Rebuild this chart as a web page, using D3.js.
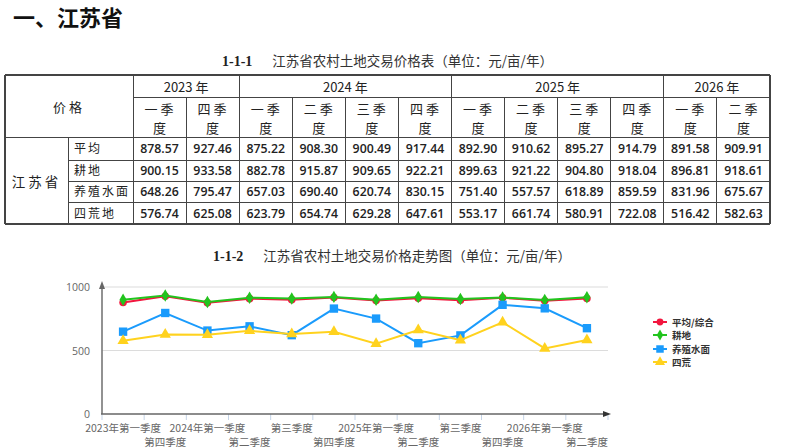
<!DOCTYPE html>
<html><head><meta charset="utf-8">
<script src="https://cdn.jsdelivr.net/npm/d3@7/dist/d3.min.js"></script>
<style>
html,body{margin:0;padding:0;background:#fff;}
svg{display:block;}
</style></head>
<body><svg id="c" width="794" height="448"></svg>
<script>
// ---- data ----
const years = [{y:"2023 年",n:2},{y:"2024 年",n:4},{y:"2025 年",n:4},{y:"2026 年",n:2}];
const quarterHeads = ["一季","四季","一季","二季","三季","四季","一季","二季","三季","四季","一季","二季"];
const categories = ["2023年第一季度","第四季度","2024年第一季度","第二季度","第三季度","第四季度","2025年第一季度","第二季度","第三季度","第四季度","2026年第一季度","第二季度"];
const rowLabels = ["平均","耕地","养殖水面","四荒地"];
const avgVals   = [878.57,927.46,875.22,908.30,900.49,917.44,892.90,910.62,895.27,914.79,891.58,909.91];
const farmVals  = [900.15,933.58,882.78,915.87,909.65,922.21,899.63,921.22,904.80,918.04,896.81,918.61];
const waterVals = [648.26,795.47,657.03,690.40,620.74,830.15,751.40,557.57,618.89,859.59,831.96,675.67];
const wasteVals = [576.74,625.08,623.79,654.74,629.28,647.61,553.17,661.74,580.91,722.08,516.42,582.63];
const seriesNames = ["平均/综合","耕地","养殖水面","四荒"];
const yTicks = [0,500,1000];

const svg = d3.select("#c");
const CJK = "'Noto Sans CJK SC','Noto Sans',sans-serif";

// ---- title ----
svg.append("text").attr("x",13).attr("y",26).attr("font-family",CJK).attr("font-weight",700)
  .attr("font-size",22).attr("fill","#111").text("一、江苏省");

// ---- captions ----
function caption(num,txt,x,y){
  const t = svg.append("text").attr("x",x).attr("y",y).attr("fill","#222");
  t.append("tspan").attr("font-family","'Liberation Serif',serif").attr("font-weight",700).attr("font-size",14).text(num);
  t.append("tspan").attr("dx",20).attr("font-family",CJK).attr("font-size",13.5).attr("fill","#333").text(txt);
}
caption("1-1-1","江苏省农村土地交易价格表（单位：元/亩/年）",222,66);

// ---- table ----
const tL=5, tR=770, c1=68, c2=133, tTop=75, yRow=97, hBot=137;
const rowB = [137,160,181,202,224];
const colX = d3.scaleLinear().domain([0,12]).range([c2,tR]);
const g = svg.append("g");
const ln = (x1,y1,x2,y2,w)=>g.append("line").attr("x1",x1).attr("y1",y1).attr("x2",x2).attr("y2",y2)
  .attr("stroke","#444").attr("stroke-width",w||1).attr("shape-rendering","crispEdges");
ln(tL,tTop,tR,tTop,1.3); ln(tL,rowB[4],tR,rowB[4],1.3); ln(tL,tTop,tL,rowB[4],1.3); ln(tR,tTop,tR,rowB[4],1.3);
ln(c2,yRow,tR,yRow); ln(tL,hBot,tR,hBot);
for(let i=1;i<4;i++) ln(c1,rowB[i],tR,rowB[i]);
ln(c1,hBot,c1,rowB[4]);
ln(c2,tTop,c2,rowB[4]);
let acc=0; const yearBounds=[0];
years.forEach(d=>{acc+=d.n; yearBounds.push(acc);});
for(let i=1;i<12;i++){
  const isYear = yearBounds.includes(i);
  ln(colX(i), isYear?tTop:yRow, colX(i), rowB[4]);
}
const tt = (x,y,s,opts={})=>g.append("text").attr("x",x).attr("y",y).attr("text-anchor",opts.anchor||"middle")
  .attr("dominant-baseline","central").attr("font-family",opts.font||CJK).attr("font-size",opts.size||13)
  .attr("font-weight",opts.weight||400).attr("letter-spacing",opts.ls||0).attr("fill",opts.fill||"#222").text(s);
tt((tL+c2)/2,106,"价格",{ls:3});
years.forEach((d,i)=>tt((colX(yearBounds[i])+colX(yearBounds[i+1]))/2,(tTop+yRow)/2,d.y,{size:13}));
quarterHeads.forEach((q,i)=>{
  const cx=(colX(i)+colX(i+1))/2;
  tt(cx+1,108,q,{ls:3});
  tt(cx,127,"度");
});
tt((tL+c1)/2,(hBot+rowB[4])/2,"江苏省",{ls:3,size:13.5});
const tableRows=[avgVals,farmVals,waterVals,wasteVals];
rowLabels.forEach((r,i)=>{
  tt(74,(rowB[i]+rowB[i+1])/2-1,r,{anchor:"start",ls:2,size:12});
  tableRows[i].forEach((v,j)=>{
    tt((colX(j)+colX(j+1))/2,(rowB[i]+rowB[i+1])/2,v.toFixed(2),{font:"'Open Sans',sans-serif",size:12.3,weight:600,fill:"#222"});
  });
});

caption("1-1-2","江苏省农村土地交易价格走势图（单位：元/亩/年）",213,261);

// ---- chart ----
const idx = d3.range(categories.length);
const x = d3.scaleBand().domain(idx).range([102,608]);
const cx = i => x(i)+x.bandwidth()/2;
const y = d3.scaleLinear().domain([0,1000]).range([414,287]);
const ch = svg.append("g");
ch.selectAll(".grid").data(yTicks.filter(d=>d>0)).join("line")
  .attr("x1",102).attr("x2",608).attr("y1",d=>y(d)).attr("y2",d=>y(d))
  .attr("stroke","#dcdcdc").attr("stroke-width",1.2);
ch.selectAll(".yl").data(yTicks).join("text").attr("x",90).attr("y",d=>y(d)).attr("text-anchor","end")
  .attr("dominant-baseline","central").attr("font-family","'Open Sans',sans-serif").attr("font-size",10.5)
  .attr("fill","#666").text(d=>d);
const bounds = idx.map(i=>x(i)).concat([608]);
ch.selectAll(".xt").data(bounds).join("line").attr("x1",d=>d).attr("x2",d=>d).attr("y1",414).attr("y2",420)
  .attr("stroke","#c4d3e6").attr("stroke-width",1);
ch.append("line").attr("x1",102).attr("x2",102).attr("y1",414).attr("y2",285).attr("stroke","#777").attr("stroke-width",1.6);
ch.append("path").attr("d","M102,281 L99,289 L105,289 Z").attr("fill","#666");
ch.append("line").attr("x1",101).attr("x2",606).attr("y1",414).attr("y2",414).attr("stroke","#666").attr("stroke-width",1.6);
ch.append("path").attr("d","M611,414 L603,411 L603,417 Z").attr("fill","#333");
ch.selectAll(".xl").data(idx).join("text")
  .attr("x",i=>cx(i)).attr("y",i=>i%2===0?427:441).attr("text-anchor","middle")
  .attr("dominant-baseline","central").attr("font-family",CJK).attr("font-size",10.5).attr("fill","#666").text(i=>categories[i]);

const colors=["#f2163e","#22c41e","#1a9bfc","#ffd21e"];
const vals=[avgVals,farmVals,waterVals,wasteVals];
const symbols=[d3.symbolCircle,d3.symbolDiamond,d3.symbolSquare,d3.symbolTriangle];
const sizes=[45,45,70,55];
const line = d3.line().x((d,i)=>cx(i)).y(d=>y(d));
[0,1,2,3].forEach(s=>{
  ch.append("path").attr("d",line(vals[s])).attr("fill","none").attr("stroke",colors[s]).attr("stroke-width",2);
  ch.selectAll(".m"+s).data(vals[s]).join("path")
    .attr("transform",(d,i)=>`translate(${cx(i)},${y(d)})`)
    .attr("d",d3.symbol().type(symbols[s]).size(sizes[s])).attr("fill",colors[s]);
});
const lg = svg.append("g");
const ly=[322,335,349,362];
seriesNames.forEach((n,i)=>{
  lg.append("line").attr("x1",653).attr("x2",667).attr("y1",ly[i]).attr("y2",ly[i]).attr("stroke",colors[i]).attr("stroke-width",2);
  lg.append("path").attr("transform",`translate(660,${ly[i]})`).attr("d",d3.symbol().type(symbols[i]).size(sizes[i]*0.8)).attr("fill",colors[i]);
  lg.append("text").attr("x",672).attr("y",ly[i]).attr("dominant-baseline","central").attr("font-family",CJK)
    .attr("font-size",9.5).attr("font-weight",700).attr("fill","#333").text(n);
});
</script></body></html>
